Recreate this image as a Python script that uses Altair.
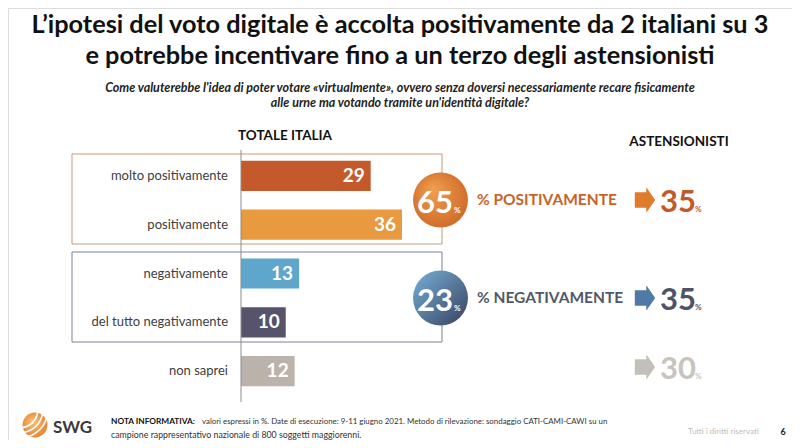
import altair as alt
import pandas as pd

FONT = "Lato"

# ---------------- data ----------------
categories = ["molto positivamente", "positivamente", "negativamente",
              "del tutto negativamente", "non saprei"]
values = [29, 36, 13, 10, 12]
bar_colors = ["#c4592b", "#e99a3e", "#5ea6cb", "#57536b", "#bbb3ab"]

summary_labels = ["% POSITIVAMENTE", "% NEGATIVAMENTE"]
summary_values = [65, 23]
astensionisti_values = [35, 35, 30]

title_lines = ["L\u2019ipotesi del voto digitale è accolta positivamente da 2 italiani su 3",
               "e potrebbe incentivare fino a un terzo degli astensionisti"]
subtitle_lines = ["Come valuterebbe l'idea di poter votare «virtualmente», ovvero senza doversi necessariamente recare fisicamente",
                  "alle urne ma votando tramite un'identità digitale?"]
note_lines = ["valori espressi in %. Date di esecuzione: 9-11 giugno 2021. Metodo di rilevazione: sondaggio CATI-CAMI-CAWI su un",
              "campione rappresentativo nazionale di 800 soggetti maggiorenni."]

df = pd.DataFrame({"cat": categories, "value": values})

W, H = 784, 432
one = alt.Data(values=[{"a": 1}])


def txt(s, x, y, size, color, weight="normal", align="left", baseline="middle",
        style="normal", font=FONT, line_height=None):
    kw = {}
    if line_height is not None:
        kw["lineHeight"] = line_height
    return alt.Chart(one).mark_text(
        text=s, font=font, fontSize=size, fontWeight=weight, fontStyle=style,
        color=color, align=align, baseline=baseline, **kw
    ).encode(x=alt.value(x), y=alt.value(y))


def box(x1, y1, x2, y2, color):
    return alt.Chart(one).mark_rect(fillOpacity=0, stroke=color, strokeWidth=1).encode(
        x=alt.value(x1), x2=alt.value(x2), y=alt.value(y1), y2=alt.value(y2))


def circle(x, y, r, fill):
    return alt.Chart(one).mark_circle(size=3.14159 * r * r, opacity=1, color=fill).encode(
        x=alt.value(x), y=alt.value(y))


def ring(x, y, r, w, color, t1, t2):
    return alt.Chart(one).mark_arc(radius=r, radius2=r + w, theta=t1, theta2=t2,
                                   color=color).encode(x=alt.value(x), y=alt.value(y))


ARROW = "M-0.8,-0.6L0.1,-0.6L0.1,-1L0.8,0L0.1,1L0.1,0.6L-0.8,0.6Z"


def arrow(x, y, color):
    return alt.Chart(one).mark_point(shape=ARROW, size=650, filled=True, opacity=1,
                                     color=color, strokeWidth=0).encode(
        x=alt.value(x), y=alt.value(y))


# ---------------- bars ----------------
xs = alt.Scale(domain=[0, 36], range=[233, 394])
ys = alt.Scale(domain=categories, range=[143.6, 387.4], paddingInner=0.38, paddingOuter=0.19)

base = alt.Chart(df).encode(
    y=alt.Y("cat:N", sort=categories, scale=ys, axis=None)
)
bars = base.mark_bar(opacity=1).encode(
    x=alt.X("value:Q", scale=xs, axis=None),
    x2=alt.datum(0),
    color=alt.Color("cat:N", scale=alt.Scale(domain=categories, range=bar_colors), legend=None),
)
bar_labels = base.mark_text(align="right", dx=-6, baseline="middle", font=FONT,
                            fontSize=19, fontWeight="bold", color="white").encode(
    x=alt.X("value:Q", scale=xs, axis=None),
    text="value:Q",
)
cat_labels = base.mark_text(align="right", baseline="middle", font=FONT,
                            fontSize=13, color="#404040").encode(
    x=alt.value(220),
    text="cat:N",
)

axis_line = alt.Chart(one).mark_rule(color="#8c8c8c", strokeWidth=1).encode(
    x=alt.value(233), y=alt.value(142), y2=alt.value(394))

grad_orange = {"gradient": "radial", "x1": 0.35, "y1": 0.3, "r1": 0.0,
               "x2": 0.5, "y2": 0.5, "r2": 0.75,
               "stops": [{"offset": 0, "color": "#f0a052"}, {"offset": 1, "color": "#c65c1c"}]}
grad_blue = {"gradient": "linear", "x1": 0.1, "y1": 0.1, "x2": 0.9, "y2": 0.9,
             "stops": [{"offset": 0, "color": "#6fa6cb"}, {"offset": 1, "color": "#3f4c6c"}]}
grad_logo = {"gradient": "radial", "x1": 0.4, "y1": 0.35, "r1": 0.0,
             "x2": 0.5, "y2": 0.5, "r2": 0.7,
             "stops": [{"offset": 0, "color": "#f7c27a"}, {"offset": 1, "color": "#e2741f"}]}

layers = [
    box(64, 146, 434, 236, "#c9997a"),
    box(64, 244, 434, 334, "#7d8294"),
    bars, axis_line, bar_labels, cat_labels,
    # titles
    txt(title_lines, 392, 25, 25.3, "#111111", "bold", "center", "alphabetic",
        line_height=30.5),
    txt(subtitle_lines, 392, 84, 12.5, "#222222", "bold", "center", "alphabetic", "italic",
        line_height=15.2),
    txt("TOTALE ITALIA", 277, 128, 13.5, "#111111", "bold", "center"),
    txt("ASTENSIONISTI", 671, 134, 13.5, "#111111", "bold", "center"),
    # summary circles
    circle(432.5, 192, 31, grad_orange),
    circle(432.5, 290, 31, grad_blue),
    txt(str(summary_values[0]), 445, 205, 31, "white", "bold", "right", "alphabetic"),
    txt("%", 446, 205, 8, "white", "bold", "left", "alphabetic"),
    txt(str(summary_values[1]), 445, 303, 31, "white", "bold", "right", "alphabetic"),
    txt("%", 446, 303, 8, "white", "bold", "left", "alphabetic"),
    txt(summary_labels[0], 469, 192, 15.5, "#c8622a", "bold", "left"),
    txt(summary_labels[1], 469, 290, 15.5, "#52586a", "bold", "left"),
]

ast_colors = ["#c25a28", "#4f5368", "#c9c3be"]
arrow_colors = ["#e07b2c", "#4f7aa6", "#c5bfb9"]
ast_arrow_y = [192, 290, 359]
ast_base_y = [204, 302, 371]
for v, c, ac, ay, by in zip(astensionisti_values, ast_colors, arrow_colors, ast_arrow_y, ast_base_y):
    layers += [
        arrow(637, ay, ac),
        txt(str(v), 652, by, 31, c, "bold", "left", "alphabetic"),
        txt("%", 687, by, 8, c, "bold", "left", "alphabetic"),
    ]

# footer
layers += [
    circle(27, 417, 14, grad_logo),
    ring(12, 402, 17, 1.6, "white", 1.2, 3.0),
    ring(12, 402, 22, 1.6, "white", 1.1, 3.1),
    ring(12, 402, 27, 1.6, "white", 1.1, 3.1),
    txt("SWG", 45, 420, 17, "#3a3a3a", "bold", "left"),
    txt("NOTA INFORMATIVA:", 103, 416, 8.3, "#111111", "bold", "left", "alphabetic"),
    txt(note_lines[0], 194, 416, 7.9, "#333333", "normal", "left", "alphabetic"),
    txt(note_lines[1], 103, 430, 8.8, "#333333", "normal", "left", "alphabetic"),
    txt("Tutti i diritti riservati", 680, 424, 8, "#bdbdbd", "normal", "left"),
    txt("6", 775, 424, 9, "#222222", "bold", "center"),
]

chart = alt.layer(*layers).properties(
    width=W, height=H, padding=0,
    autosize=alt.AutoSizeParams(type="none"),
).configure_view(stroke=None).configure(background="white")

chart.save("out.html", embed_options={"renderer": "svg", "actions": False})
